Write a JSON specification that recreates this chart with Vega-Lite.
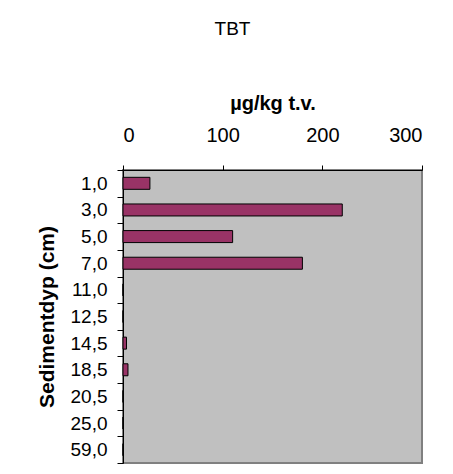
{
  "$schema": "https://vega.github.io/schema/vega-lite/v6.json",
  "autosize": "none",
  "width": 299,
  "height": 293,
  "padding": {"left": 123, "top": 170, "right": 31, "bottom": 11},
  "background": "white",
  "title": {
    "text": "TBT",
    "font": "Liberation Sans",
    "fontSize": 19,
    "fontWeight": "normal",
    "anchor": "middle",
    "dx": -40,
    "offset": 54,
    "color": "black"
  },
  "config": {
    "view": {"fill": "#c0c0c0", "stroke": "#808080", "strokeWidth": 2},
    "font": "Liberation Sans"
  },
  "data": {
    "values": [
      {"dyp": "1,0", "tbt": 27},
      {"dyp": "3,0", "tbt": 220},
      {"dyp": "5,0", "tbt": 110},
      {"dyp": "7,0", "tbt": 180},
      {"dyp": "11,0", "tbt": 0},
      {"dyp": "12,5", "tbt": 0},
      {"dyp": "14,5", "tbt": 3.5},
      {"dyp": "18,5", "tbt": 5},
      {"dyp": "20,5", "tbt": 0},
      {"dyp": "25,0", "tbt": 0},
      {"dyp": "59,0", "tbt": 0}
    ]
  },
  "mark": {"type": "bar", "color": "#993366", "stroke": "black", "strokeWidth": 1, "size": 12},
  "encoding": {
    "y": {
      "field": "dyp",
      "type": "nominal",
      "sort": null,
      "scale": {"paddingInner": 0, "paddingOuter": 0},
      "axis": {
        "title": "Sedimentdyp (cm)",
        "titleFontSize": 21,
        "titleFontWeight": "bold",
        "titleColor": "black",
        "titlePadding": 13,
        "labelFontSize": 19,
        "labelColor": "black",
        "labelPadding": 10,
        "tickBand": "extent",
        "tickSize": 6,
        "tickColor": "black",
        "domainColor": "black",
        "grid": false
      }
    },
    "x": {
      "field": "tbt",
      "type": "quantitative",
      "scale": {"domain": [0, 300], "nice": false},
      "axis": {
        "orient": "top",
        "values": [0, 100, 200, 300],
        "title": "µg/kg t.v.",
        "titleFontSize": 20,
        "titleFontWeight": "bold",
        "titleColor": "black",
        "titlePadding": 12,
        "labelFontSize": 20,
        "labelColor": "black",
        "labelPadding": 20,
        "tickSize": 5,
        "tickColor": "black",
        "domainColor": "black",
        "grid": false
      }
    }
  }
}
